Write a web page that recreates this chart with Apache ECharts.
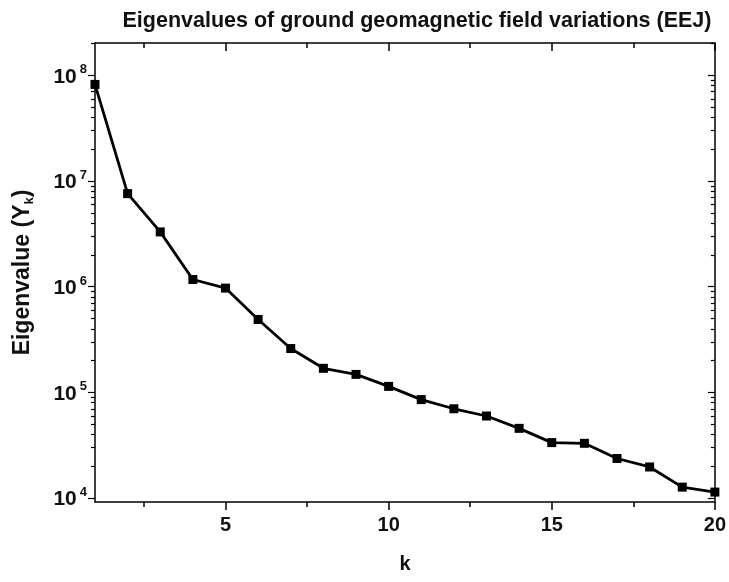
<!DOCTYPE html>
<html>
<head>
<meta charset="utf-8">
<script src="https://cdn.jsdelivr.net/npm/echarts@6/dist/echarts.min.js"></script>
<style>html,body{margin:0;padding:0;background:#fff}#c{width:729px;height:582px}</style>
</head>
<body>
<div id="c"></div>
<script>
// Data
const kValues = [1,2,3,4,5,6,7,8,9,10,11,12,13,14,15,16,17,18,19,20];
const eigenvalues = [8.2e7,7.6e6,3.3e6,1.17e6,9.7e5,4.9e5,2.6e5,1.69e5,1.48e5,1.14e5,8.55e4,7.0e4,5.98e4,4.57e4,3.35e4,3.3e4,2.37e4,1.97e4,1.27e4,1.14e4];
const xMajorTicks = [5,10,15,20];
const xMinorTicks = [2.5,7.5,12.5,17.5];
const yDecades = [4,5,6,7,8]; // exponents of 10
const yMinorMultipliers = [2,3,4,5,6,7,8,9];

const yMin = 3.963, yMax = 8.306; // log10 extent of plot
const yMajor = yDecades.slice();
const yMinor = [];
[3,4,5,6,7,8].forEach(d => yMinorMultipliers.forEach(m => {
  const v = d + Math.log10(m);
  if (v > yMin && v < yMax) yMinor.push(v);
}));

const seriesData = kValues.map((k,i) => [k, Math.log10(eigenvalues[i])]);

const FONT = '"Liberation Sans", Arial, sans-serif';
const lineStyle = {color:'#000', width:1.5};

function xAx(pos, custom, len, inside, showLine, showLabel){
  return {
    type:'value', position:pos, min:1, max:20,
    axisLine:{show:showLine, onZero:false, lineStyle},
    axisTick:{show:true, customValues:custom, length:len, inside:inside, lineStyle:{color:'#000', width:1.5}},
    axisLabel:{show:showLabel, customValues:xMajorTicks, margin:13, fontFamily:FONT, fontWeight:'bold', fontSize:20, color:'#111'},
    splitLine:{show:false}
  };
}
function yAx(pos, custom, len, inside, showLine, showLabel){
  return {
    type:'value', position:pos, min:yMin, max:yMax,
    axisLine:{show:showLine, onZero:false, lineStyle},
    axisTick:{show:true, customValues:custom, length:len, inside:inside, lineStyle:{color:'#000', width:1.2}},
    axisLabel:{show:showLabel, customValues:yMajor, margin:8,
      formatter: v => '{b|10}{s|' + Math.round(v) + '}',
      rich:{
        b:{fontFamily:FONT, fontWeight:'bold', fontSize:21, color:'#111', lineHeight:24, verticalAlign:'bottom'},
        s:{fontFamily:FONT, fontWeight:'bold', fontSize:13, color:'#111', lineHeight:24, verticalAlign:'top', padding:[0,0,0,3]}
      }},
    splitLine:{show:false}
  };
}

const xAxes = [
  Object.assign(xAx('bottom', xMajorTicks, 8, false, true, true), {
    name:'k', nameLocation:'middle', nameGap:52,
    nameTextStyle:{fontFamily:FONT, fontWeight:'bold', fontSize:20, color:'#111'}
  }),
  xAx('bottom', xMinorTicks, 5, false, false, false),
  xAx('top', xMajorTicks, 8, true, true, false),
  xAx('top', xMinorTicks, 5, true, false, false)
];
const yAxes = [
  Object.assign(yAx('left', yMajor, 7, false, true, true), {
    name:'{a|Eigenvalue (Y}{k|k}{a|)}', nameLocation:'middle', nameGap:59,
    nameTextStyle:{rich:{
      a:{fontFamily:FONT, fontWeight:'bold', fontSize:23, color:'#111', lineHeight:27, verticalAlign:'middle'},
      k:{fontFamily:FONT, fontWeight:'bold', fontSize:13, color:'#111', lineHeight:27, verticalAlign:'bottom'}
    }}
  }),
  yAx('left', yMinor, 4, false, false, false),
  yAx('right', yMajor, 7, true, true, false),
  yAx('right', yMinor, 4, true, false, false)
];

const chart = echarts.init(document.getElementById('c'), null, {renderer:'canvas'});
chart.setOption({
  animation:false,
  backgroundColor:'#fff',
  title:{
    text:'Eigenvalues of ground geomagnetic field variations (EEJ)',
    left:412, textAlign:'center', top:5,
    textStyle:{fontFamily:FONT, fontWeight:'bold', fontSize:21.5, color:'#111'}
  },
  grid:{left:95, right:12, top:43, bottom:80, containLabel:false},
  xAxis:xAxes,
  yAxis:yAxes,
  series:[{
    type:'line', xAxisIndex:0, yAxisIndex:0,
    data:seriesData,
    symbol:'rect', symbolSize:9, showSymbol:true,
    lineStyle:{color:'#000', width:2.8},
    itemStyle:{color:'#000', borderWidth:0},
    clip:false
  }]
});
</script>
</body>
</html>
